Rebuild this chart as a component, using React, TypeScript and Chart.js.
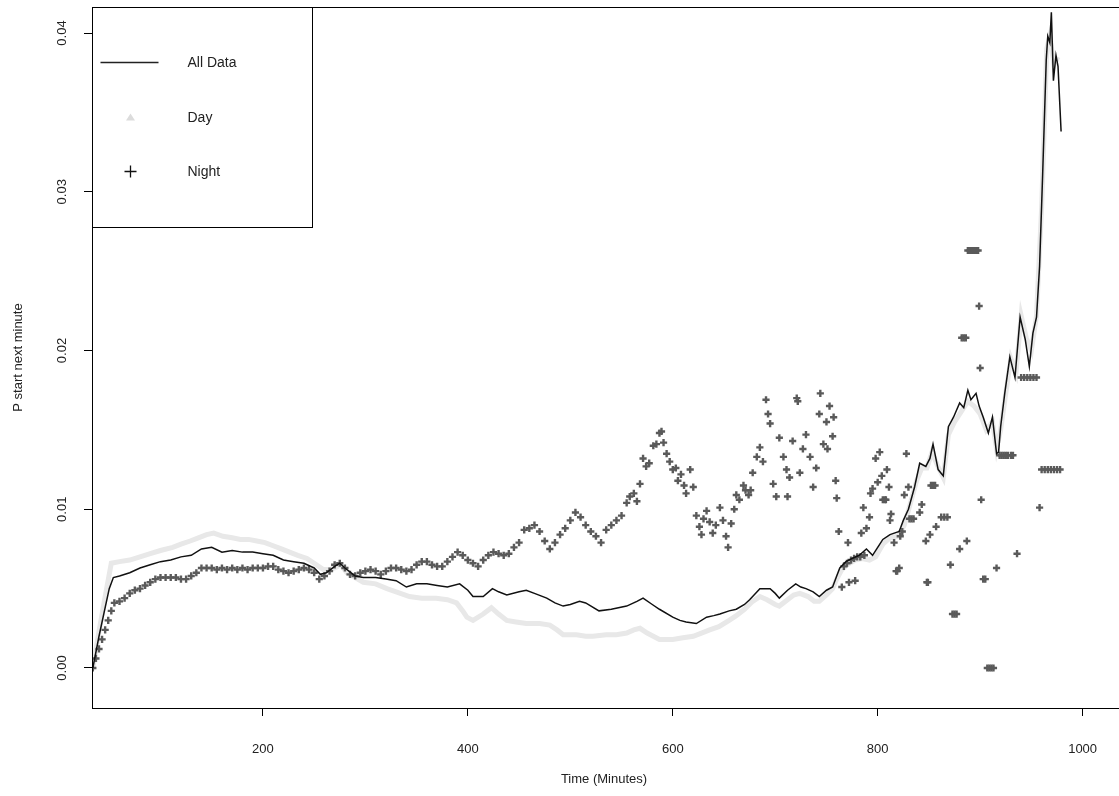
import React, { useEffect, useRef } from "react";
import { Chart, registerables } from "chart.js";

Chart.register(...registerables);

// ---------- data (minutes, probability) ----------
const allMinutes = [34,40,45,50,54,60,70,80,90,100,110,120,130,140,150,160,170,180,190,200,210,220,230,240,250,256,262,270,275,280,290,298,310,320,330,340,350,360,370,380,392,400,405,415,424,430,438,450,457,465,477,485,493,500,509,515,528,540,555,565,571,580,587,600,607,613,623,633,640,646,655,662,670,675,685,695,700,704,712,720,725,730,737,743,750,756,760,763,769,775,782,789,795,800,805,812,821,825,830,836,841,847,851,854,859,864,869,874,880,884,888,891,896,899,903,908,912,916,918,920,924,929,934,939,944,948,951.5,955,958,961,964.5,966,968,969.5,971.5,974,976,979];
const allValues = [0.0000,0.0020,0.0035,0.0050,0.0057,0.0058,0.0060,0.0063,0.0065,0.0067,0.0068,0.0070,0.0071,0.0075,0.0076,0.0073,0.0074,0.0073,0.0073,0.0072,0.0071,0.0068,0.0067,0.0066,0.0063,0.0059,0.0060,0.0064,0.0066,0.0063,0.0058,0.0057,0.0057,0.0056,0.0055,0.0051,0.0053,0.0053,0.0052,0.0051,0.0053,0.0049,0.0045,0.0045,0.0050,0.0048,0.0046,0.0048,0.0049,0.0047,0.0044,0.0041,0.0039,0.0040,0.0042,0.0041,0.0036,0.0037,0.0039,0.0042,0.0044,0.0040,0.0037,0.0032,0.0030,0.0029,0.0028,0.0032,0.0033,0.0034,0.0036,0.0037,0.0040,0.0043,0.0050,0.0050,0.0047,0.0044,0.0049,0.0053,0.0051,0.0050,0.0048,0.0045,0.0049,0.0051,0.0058,0.0063,0.0067,0.0069,0.0071,0.0075,0.0071,0.0076,0.0081,0.0084,0.0086,0.0093,0.0100,0.0114,0.0129,0.0127,0.0132,0.0141,0.0125,0.0121,0.0152,0.0158,0.0167,0.0164,0.0175,0.0169,0.0173,0.0165,0.0158,0.0148,0.0158,0.0135,0.0136,0.0152,0.0173,0.0196,0.0183,0.0221,0.0207,0.0190,0.0211,0.0221,0.0253,0.0311,0.0383,0.0398,0.0394,0.0413,0.0370,0.0386,0.0379,0.0338];

const dayMinutes = [34,40,46,52,60,70,80,90,100,112,120,129,137,145,152,161,170,178,186,194,202,210,218,226,234,243,250,259,265,270,276,282,290,298,310,321,330,343,355,369,380,389,395,399,405,415,423,430,438,447,457,470,480,487,493,506,515,522,535,545,555,562,568,575,587,600,610,620,628,636,645,655,662,670,678,685,692,700,704,712,718,724,732,738,743,750,756,760,765,770,778,785,792,798,805,812,820,826,832,838,843,848,853,858,864,869,875,882,888,894,900,906,912,916,920,925,930,935,940,945,950,955,960,965,968,972,976];
const dayValues = [0.0000,0.0023,0.0045,0.0066,0.0067,0.0068,0.0070,0.0072,0.0074,0.0076,0.0078,0.0080,0.0082,0.0084,0.0085,0.0083,0.0082,0.0081,0.0081,0.0080,0.0079,0.0077,0.0075,0.0073,0.0071,0.0069,0.0066,0.0062,0.0062,0.0063,0.0065,0.0060,0.0057,0.0054,0.0053,0.0050,0.0048,0.0045,0.0044,0.0044,0.0043,0.0041,0.0036,0.0032,0.0030,0.0034,0.0038,0.0034,0.0030,0.0029,0.0028,0.0028,0.0027,0.0024,0.0021,0.0021,0.0020,0.0020,0.0021,0.0021,0.0022,0.0024,0.0025,0.0022,0.0018,0.0018,0.0019,0.0020,0.0022,0.0024,0.0026,0.0030,0.0033,0.0037,0.0042,0.0045,0.0043,0.0040,0.0039,0.0043,0.0046,0.0047,0.0045,0.0042,0.0042,0.0046,0.0050,0.0056,0.0062,0.0065,0.0068,0.0069,0.0068,0.0070,0.0078,0.0082,0.0083,0.0090,0.0104,0.0118,0.0126,0.0126,0.0136,0.0128,0.0120,0.0147,0.0155,0.0162,0.0168,0.0165,0.0160,0.0150,0.0155,0.0138,0.0150,0.0173,0.0195,0.0186,0.0222,0.0208,0.0200,0.0222,0.0290,0.0390,0.0398,0.0380,0.0385];

const nightMinutes = [34,37,40,43,46,49,52,55,60,65,70,75,80,85,90,95,100,105,110,115,120,125,130,135,140,145,150,155,160,165,170,175,180,185,190,195,200,205,210,215,220,225,230,235,240,245,250,255,260,265,270,275,280,285,290,295,300,305,310,315,320,325,330,335,340,345,350,355,360,365,370,375,380,385,390,395,400,405,410,415,420,425,430,435,440,445,450,455,460,465,470,475,480,485,490,495,500,505,510,515,520,525,530,535,540,545,550,555,
558,562,565,568,571,574,577,581,584,587,589,591,594,597,600,603,605,608,611,613,617,620,623,626,628,630,633,636,639,642,646,649,652,654,657,660,662,665,669,671,674,676,678,682,685,688,691,693,695,698,701,704,708,711,712,714,717,721,722,724,727,730,734,737,740,743,744,747,750,751,753,756,757,759,760,762,765,767,770,771,772,774,777,778,780,783,784,786,787,789,792,793,795,798,800,802,804,805,807,808,809,811,812,813,816,818,819,821,822,824,826,828,830,831,833,835,841,843,847,848,849,851,852,854,856,857,862,865,868,871,873,875,877,880,882,884,886,887,888,890,892,894,896,898,899,900,901,903,905,907,909,911,913,916,919,921,923,925,927,930,932,936,940,943,946,949,952,955,958,960,963,966,969,972,975,978];
const nightValues = [0.0000,0.0006,0.0012,0.0018,0.0024,0.0030,0.0036,0.0041,0.0042,0.0044,0.0047,0.0049,0.0050,0.0052,0.0054,0.0056,0.0057,0.0057,0.0057,0.0057,0.0056,0.0056,0.0058,0.0060,0.0063,0.0063,0.0063,0.0062,0.0063,0.0062,0.0063,0.0062,0.0063,0.0062,0.0063,0.0063,0.0063,0.0064,0.0064,0.0062,0.0061,0.0060,0.0061,0.0062,0.0063,0.0062,0.0060,0.0056,0.0058,0.0061,0.0065,0.0066,0.0063,0.0059,0.0058,0.0060,0.0061,0.0062,0.0061,0.0059,0.0061,0.0063,0.0063,0.0062,0.0061,0.0062,0.0065,0.0067,0.0067,0.0065,0.0064,0.0064,0.0067,0.0070,0.0073,0.0071,0.0068,0.0066,0.0064,0.0068,0.0071,0.0073,0.0072,0.0071,0.0072,0.0076,0.0079,0.0087,0.0088,0.0090,0.0086,0.0080,0.0075,0.0079,0.0084,0.0088,0.0093,0.0098,0.0095,0.0090,0.0086,0.0083,0.0079,0.0087,0.0090,0.0093,0.0096,0.0104,
0.0108,0.0110,0.0105,0.0116,0.0132,0.0127,0.0129,0.0140,0.0141,0.0148,0.0149,0.0142,0.0135,0.0130,0.0125,0.0126,0.0118,0.0122,0.0115,0.0110,0.0125,0.0114,0.0096,0.0089,0.0084,0.0094,0.0099,0.0092,0.0085,0.0090,0.0101,0.0093,0.0083,0.0076,0.0091,0.0100,0.0109,0.0106,0.0115,0.0112,0.0109,0.0112,0.0123,0.0133,0.0139,0.0130,0.0169,0.0160,0.0154,0.0116,0.0108,0.0145,0.0133,0.0125,0.0108,0.0120,0.0143,0.0170,0.0168,0.0123,0.0138,0.0147,0.0133,0.0114,0.0126,0.0160,0.0173,0.0141,0.0155,0.0138,0.0165,0.0146,0.0158,0.0118,0.0107,0.0086,0.0051,0.0064,0.0066,0.0079,0.0054,0.0068,0.0069,0.0055,0.0070,0.0070,0.0085,0.0101,0.0071,0.0088,0.0095,0.0110,0.0113,0.0132,0.0117,0.0136,0.0121,0.0106,0.0106,0.0106,0.0125,0.0114,0.0093,0.0097,0.0079,0.0061,0.0061,0.0063,0.0083,0.0086,0.0109,0.0135,0.0114,0.0094,0.0094,0.0094,0.0098,0.0103,0.0080,0.0054,0.0054,0.0084,0.0115,0.0115,0.0115,0.0089,0.0095,0.0095,0.0095,0.0065,0.0034,0.0034,0.0034,0.0075,0.0208,0.0208,0.0208,0.0080,0.0263,0.0263,0.0263,0.0263,0.0263,0.0263,0.0228,0.0189,0.0106,0.0056,0.0056,0.0000,0.0000,0.0000,0.0000,0.0063,0.0134,0.0134,0.0134,0.0134,0.0134,0.0134,0.0134,0.0072,0.0183,0.0183,0.0183,0.0183,0.0183,0.0183,0.0101,0.0125,0.0125,0.0125,0.0125,0.0125,0.0125,0.0125];

const xTickValues = [200, 400, 600, 800, 1000];
const yTickValues = [0, 0.01, 0.02, 0.03, 0.04];
const yTickLabels = ["0.00", "0.01", "0.02", "0.03", "0.04"];
const legendLabels = ["All Data", "Day", "Night"];
const xTitle = "Time (Minutes)";
const yTitle = "P start next minute";

const FONT = "'Liberation Sans', Arial, sans-serif";

const zip = (xs: number[], ys: number[]) => xs.map((x, i) => ({ x, y: ys[i] }));

const decorPlugin = {
  id: "rDecor",
  afterDraw(chart: any) {
    const { ctx, chartArea: ca, scales } = chart;
    ctx.save();
    // plot box
    ctx.strokeStyle = "#000";
    ctx.lineWidth = 1;
    ctx.strokeRect(Math.round(ca.left) + 0.5, Math.round(ca.top) + 0.5, ca.right - ca.left, ca.bottom - ca.top);

    // y tick labels (rotated, R style)
    ctx.fillStyle = "#222";
    ctx.font = `13px ${FONT}`;
    ctx.textAlign = "center";
    ctx.textBaseline = "middle";
    yTickValues.forEach((v, i) => {
      const py = scales.y.getPixelForValue(v);
      ctx.save();
      ctx.translate(ca.left - 30, py);
      ctx.rotate(-Math.PI / 2);
      ctx.fillText(yTickLabels[i], 0, 0);
      ctx.restore();
    });

    // axis titles
    ctx.save();
    ctx.translate(18, (ca.top + ca.bottom) / 2);
    ctx.rotate(-Math.PI / 2);
    ctx.fillText(yTitle, 0, 0);
    ctx.restore();
    ctx.fillText(xTitle, 604, 779);

    // legend
    const lx = Math.round(ca.left) + 0.5;
    const ly = Math.round(ca.top) + 0.5;
    ctx.fillStyle = "#fff";
    ctx.fillRect(lx, ly, 220, 220);
    ctx.strokeStyle = "#000";
    ctx.strokeRect(lx, ly, 220, 220);
    const rows = [ly + 55, ly + 110, ly + 164];
    // line sample
    ctx.strokeStyle = "#222";
    ctx.lineWidth = 1.5;
    ctx.beginPath();
    ctx.moveTo(lx + 8, rows[0]);
    ctx.lineTo(lx + 66, rows[0]);
    ctx.stroke();
    // triangle
    ctx.fillStyle = "#dcdcdc";
    ctx.beginPath();
    ctx.moveTo(lx + 38, rows[1] - 4);
    ctx.lineTo(lx + 42.5, rows[1] + 3);
    ctx.lineTo(lx + 33.5, rows[1] + 3);
    ctx.closePath();
    ctx.fill();
    // plus
    ctx.strokeStyle = "#111";
    ctx.lineWidth = 1.3;
    ctx.beginPath();
    ctx.moveTo(lx + 32, rows[2]);
    ctx.lineTo(lx + 44, rows[2]);
    ctx.moveTo(lx + 38, rows[2] - 6);
    ctx.lineTo(lx + 38, rows[2] + 6);
    ctx.stroke();
    ctx.fillStyle = "#222";
    ctx.font = `14px ${FONT}`;
    ctx.textAlign = "left";
    legendLabels.forEach((t, i) => ctx.fillText(t, lx + 95, rows[i] + 1));
    ctx.restore();
  },
};

export default function App() {
  const ref = useRef<HTMLCanvasElement>(null);
  useEffect(() => {
    document.body.style.margin = "0";
    const canvas = ref.current!;
    const chart = new Chart(canvas, {
      type: "line",
      data: {
        datasets: [
          {
            label: "All Data",
            data: zip(allMinutes, allValues),
            borderColor: "#111",
            borderWidth: 1.5,
            pointRadius: 0,
            fill: false,
            tension: 0,
            order: 0,
          } as any,
          {
            label: "Night",
            data: zip(nightMinutes, nightValues),
            showLine: false,
            pointStyle: "cross",
            pointRadius: 3.6,
            borderColor: "#5a5a5a",
            backgroundColor: "#5a5a5a",
            pointBorderWidth: 2.4,
            order: 1,
          } as any,
          {
            label: "Day",
            data: zip(dayMinutes, dayValues),
            borderColor: "#e8e8e8",
            borderWidth: 5,
            pointRadius: 0,
            fill: false,
            tension: 0,
            order: 2,
          } as any,
        ],
      },
      options: {
        responsive: false,
        animation: false,
        devicePixelRatio: 1,
        layout: { padding: { top: 7, right: 1, left: 0, bottom: 0 } },
        plugins: { legend: { display: false }, tooltip: { enabled: false } },
        scales: {
          x: {
            type: "linear",
            min: 33.17,
            max: 1036.1,
            afterBuildTicks: (s: any) => {
              s.ticks = xTickValues.map((v) => ({ value: v }));
            },
            afterFit: (s: any) => {
              s.height = 88;
            },
            ticks: {
              color: "#222",
              font: { family: FONT, size: 13 },
              padding: 26,
              maxRotation: 0,
              minRotation: 0,
              autoSkip: false,
              callback: (v: any) => String(v),
            },
            grid: { display: true, drawOnChartArea: false, drawTicks: true, tickLength: 8, color: "#000", lineWidth: 1 },
            border: { display: false },
          },
          y: {
            type: "linear",
            min: -0.00252,
            max: 0.04164,
            afterBuildTicks: (s: any) => {
              s.ticks = yTickValues.map((v) => ({ value: v }));
            },
            afterFit: (s: any) => {
              s.width = 92;
            },
            ticks: { display: false },
            grid: { display: true, drawOnChartArea: false, drawTicks: true, tickLength: 8, color: "#000", lineWidth: 1 },
            border: { display: false },
          },
        },
      },
      plugins: [decorPlugin],
    });
    return () => chart.destroy();
  }, []);
  return (
    <div style={{ width: 1119, height: 796, overflow: "hidden", background: "#fff" }}>
      <canvas ref={ref} width={1126} height={796} style={{ display: "block" }} />
    </div>
  );
}
